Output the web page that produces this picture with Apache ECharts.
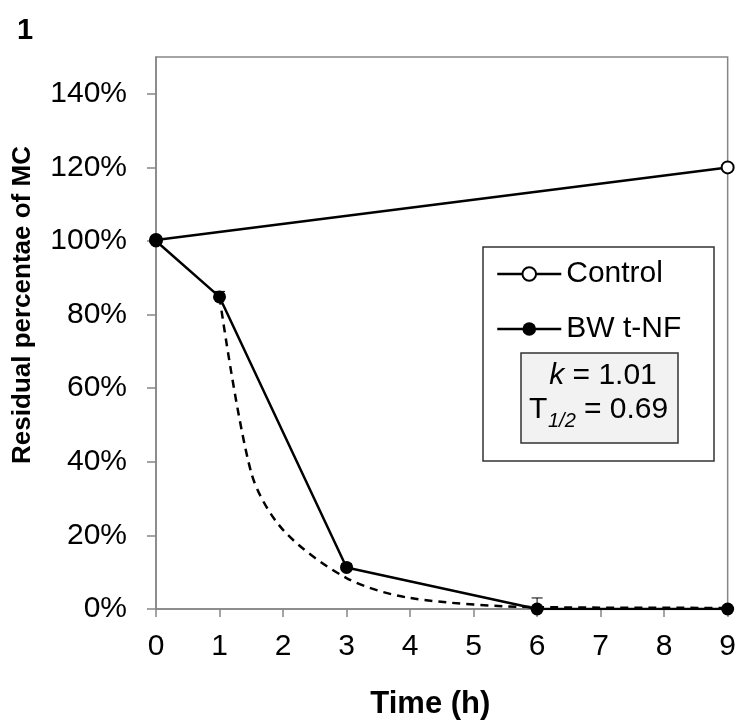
<!DOCTYPE html>
<html>
<head>
<meta charset="utf-8">
<script src="https://cdn.jsdelivr.net/npm/echarts@6/dist/echarts.min.js"></script>
<style>
  html, body { margin: 0; padding: 0; background: #fff; }
  #chart-container { width: 739px; height: 725px; }
</style>
</head>
<body>
<div id="chart-container"></div>
<script>
var dom = document.getElementById("chart-container");
var myChart = echarts.init(dom, null, { renderer: "canvas" });

var FONT = "Liberation Sans, Arial, sans-serif";

// time points (h)
var controlTimes = [0, 9];
var controlValues = [100.3, 120];
var controlErrors = [0.5, 0.6];

var bwTimes = [0, 1, 3, 6, 9];
var bwValues = [100, 84.8, 11.3, 0, 0];
var bwErrors = [0.5, 1.5, 1, 3, 0];

// first-order decay fit (dashed)
var fitTimes = [1, 1.5, 2, 3, 4, 6, 9];
var fitValues = [84.8, 37, 21.5, 8.4, 3, 0.5, 0.3];

var yTicks = [0, 20, 40, 60, 80, 100, 120, 140];

function pairs(xs, ys) {
  return xs.map(function (x, i) { return [x, ys[i]]; });
}
function triples(xs, ys, es) {
  return xs.map(function (x, i) { return [x, ys[i], es[i]]; });
}

// upper error bar with cap
function errorBar(params, api) {
  var x = api.value(0), y = api.value(1), e = api.value(2);
  if (!e) return null;
  var hi = api.coord([x, y + e]);
  var mid = api.coord([x, y]);
  var w = 5.5;
  var style = { stroke: "#000", lineWidth: 1 };
  return {
    type: "group",
    children: [
      { type: "line", shape: { x1: hi[0], y1: hi[1], x2: mid[0], y2: mid[1] }, style: style },
      { type: "line", shape: { x1: hi[0] - w, y1: hi[1], x2: hi[0] + w, y2: hi[1] }, style: style }
    ]
  };
}

var axisGray = "#868686";

var option = {
  animation: false,
  grid: {
    left: 156, right: 9, top: 57, bottom: 114,
    show: true, borderColor: axisGray, borderWidth: 1.5
  },
  legend: {
    orient: "vertical",
    left: 496,
    top: 259,
    padding: 0,
    itemWidth: 64,
    itemHeight: 17,
    itemGap: 25,
    lineStyle: { width: 2.5 },
    data: ["Control", "BW t-NF"],
    textStyle: { fontFamily: FONT, fontSize: 30, color: "#000" }
  },
  xAxis: {
    type: "value",
    min: 0, max: 9, interval: 1,
    name: "Time (h)",
    nameLocation: "middle",
    nameGap: 80,
    nameTextStyle: { fontFamily: FONT, fontSize: 31, fontWeight: "bold", color: "#000", padding: [0, 23, 0, 0] },
    axisLine: { lineStyle: { color: axisGray, width: 1.5 } },
    axisTick: { show: true, inside: false, length: 8, lineStyle: { color: axisGray, width: 1.5 } },
    axisLabel: { fontFamily: FONT, fontSize: 30, color: "#000", margin: 23 },
    splitLine: { show: false }
  },
  yAxis: {
    type: "value",
    min: 0, max: 150, interval: 20,
    name: "Residual percentae of MC",
    nameLocation: "middle",
    nameGap: 120,
    nameTextStyle: { fontFamily: FONT, fontSize: 26, fontWeight: "bold", color: "#000", padding: [0, 0, 0, 56] },
    axisLine: { show: true, lineStyle: { color: axisGray, width: 1.5 } },
    axisTick: { show: true, length: 9, customValues: yTicks, lineStyle: { color: axisGray, width: 1.5 } },
    axisLabel: {
      fontFamily: FONT, fontSize: 30, color: "#000", margin: 29,
      customValues: yTicks,
      formatter: function (v) { return v > 145 ? "" : v + "%"; }
    },
    splitLine: { show: false }
  },
  series: [
    {
      name: "fit",
      type: "line",
      data: pairs(fitTimes, fitValues),
      smooth: 0.3,
      showSymbol: false,
      lineStyle: { color: "#000", width: 2.5, type: [8, 6] },
      z: 1
    },
    {
      name: "bwErr",
      type: "custom",
      renderItem: errorBar,
      data: triples(bwTimes, bwValues, bwErrors),
      z: 1
    },
    {
      name: "controlErr",
      type: "custom",
      renderItem: errorBar,
      data: triples(controlTimes, controlValues, controlErrors),
      z: 1
    },
    {
      name: "Control",
      type: "line",
      data: pairs(controlTimes, controlValues),
      symbol: "emptyCircle",
      symbolSize: 12,
      itemStyle: { color: "#000", borderColor: "#000", borderWidth: 2.5 },
      lineStyle: { color: "#000", width: 2.5 },
      z: 3
    },
    {
      name: "BW t-NF",
      type: "line",
      data: pairs(bwTimes, bwValues),
      symbol: "circle",
      symbolSize: 13,
      itemStyle: { color: "#000", borderWidth: 0 },
      lineStyle: { color: "#000", width: 2.5 },
      z: 3
    }
  ],
  graphic: [
    {
      type: "text", left: 17, top: 16, z: 10,
      style: { text: "1", fontFamily: FONT, fontSize: 29, fontWeight: "bold", fill: "#000" }
    },
    {
      type: "rect", z: 3,
      shape: { x: 483, y: 247, width: 231, height: 214 },
      style: { fill: "#fff", stroke: "#333", lineWidth: 1.5 }
    },
    {
      type: "rect", z: 5,
      shape: { x: 521, y: 353, width: 157, height: 90 },
      style: { fill: "#f2f2f2", stroke: "#333", lineWidth: 1.5 }
    },
    {
      type: "text", z: 6, x: 603, y: 376,
      style: {
        text: "{i|k} = 1.01", fontFamily: FONT, fontSize: 30, fill: "#000",
        align: "center", verticalAlign: "middle",
        rich: { i: { fontFamily: FONT, fontSize: 30, fontStyle: "italic" } }
      }
    },
    {
      type: "text", z: 6, x: 529, y: 410,
      style: { text: "T", fontFamily: FONT, fontSize: 30, fill: "#000", align: "left", verticalAlign: "middle" }
    },
    {
      type: "text", z: 6, x: 548, y: 421,
      style: { text: "1/2", fontFamily: FONT, fontSize: 20, fontStyle: "italic", fill: "#000", align: "left", verticalAlign: "middle" }
    },
    {
      type: "text", z: 6, x: 584, y: 410,
      style: { text: "= 0.69", fontFamily: FONT, fontSize: 30, fill: "#000", align: "left", verticalAlign: "middle" }
    }
  ]
};

myChart.setOption(option);

window.addEventListener("resize", function () {
  myChart.resize();
});
</script>
</body>
</html>
